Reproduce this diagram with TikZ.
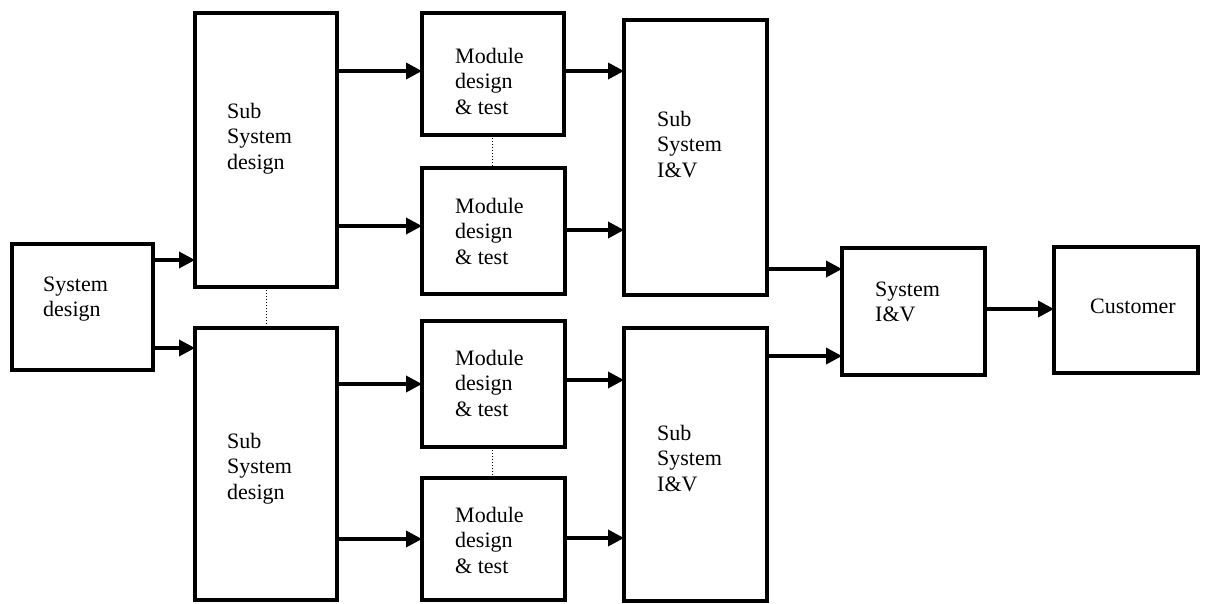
\documentclass[tikz,border=0pt]{standalone}
\usepackage{fontspec}
\setmainfont{Liberation Serif}
\usetikzlibrary{arrows.meta}
\begin{document}
\begin{tikzpicture}[x=1pt,y=-1pt,
  blk/.style={draw, line width=4.2pt, inner sep=0pt, outer sep=0pt},
  % labels are placed by the baseline of their last line
  lbl/.style={anchor=base west, align=left, inner sep=0pt,
    font=\fontsize{22}{25.5}\selectfont},
  flow/.style={line width=3.6pt, -{Triangle[length=16pt,width=16pt]}},
  link/.style={dotted, line width=1pt}]
\useasboundingbox (0,0) rectangle (1216,603);

% boxes
\node[blk, minimum width=141pt, minimum height=126pt] (sysd) at (82.5,307) {};
\node[blk, minimum width=142pt, minimum height=274pt] (ssd1) at (266,150) {};
\node[blk, minimum width=142pt, minimum height=272pt] (ssd2) at (266,464) {};
\node[blk, minimum width=142pt, minimum height=122pt] (mod1) at (493,74) {};
\node[blk, minimum width=143pt, minimum height=126pt] (mod2) at (493.5,231) {};
\node[blk, minimum width=143pt, minimum height=126pt] (mod3) at (493.5,384) {};
\node[blk, minimum width=143pt, minimum height=122pt] (mod4) at (493.5,539) {};
\node[blk, minimum width=143pt, minimum height=275pt] (siv1) at (695.5,157.5) {};
\node[blk, minimum width=143pt, minimum height=273pt] (siv2) at (695.5,464.5) {};
\node[blk, minimum width=143pt, minimum height=127pt] (sysiv) at (913.5,311.5) {};
\node[blk, minimum width=144pt, minimum height=126pt] (cust) at (1126,310) {};

% labels
\node[lbl] (tsysd) at (43,316.5) {System\\design};
\node[lbl] (tssd1) at (227,169) {Sub\\System\\design};
\node[lbl] (tssd2) at (227,499) {Sub\\System\\design};
\node[lbl] (tmod1) at (455,114) {Module\\design\\\& test};
\node[lbl] (tmod2) at (455,264) {Module\\design\\\& test};
\node[lbl] (tmod3) at (455,416) {Module\\design\\\& test};
\node[lbl] (tmod4) at (455,573) {Module\\design\\\& test};
\node[lbl] (tsiv1) at (657,177) {Sub\\System\\I\&V};
\node[lbl] (tsiv2) at (657,491) {Sub\\System\\I\&V};
\node[lbl] (tsysiv) at (875,321.5) {System\\I\&V};
\node[lbl] (tcust) at (1090,313) {Customer};

% flow arrows
\draw[flow] (sysd.east |- 0,260) -- (ssd1.west |- 0,260);
\draw[flow] (sysd.east |- 0,348) -- (ssd2.west |- 0,348);
\draw[flow] (ssd1.east |- 0,71) -- (mod1.west |- 0,71);
\draw[flow] (ssd1.east |- 0,226) -- (mod2.west |- 0,226);
\draw[flow] (ssd2.east |- 0,384) -- (mod3.west |- 0,384);
\draw[flow] (ssd2.east |- 0,539) -- (mod4.west |- 0,539);
\draw[flow] (mod1.east |- 0,71) -- (siv1.west |- 0,71);
\draw[flow] (mod2.east |- 0,230) -- (siv1.west |- 0,230);
\draw[flow] (mod3.east |- 0,380) -- (siv2.west |- 0,380);
\draw[flow] (mod4.east |- 0,538) -- (siv2.west |- 0,538);
\draw[flow] (siv1.east |- 0,269) -- (sysiv.west |- 0,269);
\draw[flow] (siv2.east |- 0,356) -- (sysiv.west |- 0,356);
\draw[flow] (sysiv.east |- 0,309) -- (cust.west |- 0,309);

% dotted links between parallel blocks
\draw[link] (ssd1.south) -- (ssd2.north);
\draw[link] ([xshift=-1pt]mod1.south) -- ([xshift=-1.5pt]mod2.north);
\draw[link] ([xshift=-1.5pt]mod3.south) -- ([xshift=-1.5pt]mod4.north);
\end{tikzpicture}
\end{document}
